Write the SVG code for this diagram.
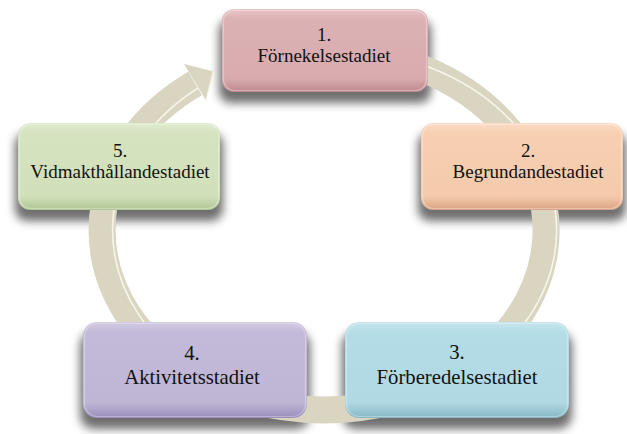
<svg xmlns="http://www.w3.org/2000/svg" width="627" height="434" viewBox="0 0 627 434">
<defs>
<style>
text{font-family:"Liberation Serif","Times New Roman",serif;fill:#111;text-anchor:middle}
.s19{font-size:19px}
.s21{font-size:20.7px}
.sh{fill:#555;opacity:.85;filter:url(#blur)}
.ring{fill:none;stroke:#d9d5c1;stroke-width:27}
.hl{fill:none;stroke:#f8f5e8;stroke-width:1.6}
.edge{fill:none;stroke:#ffffff;stroke-opacity:.3;stroke-width:1.2}
</style>
<filter id="blur" x="-20%" y="-40%" width="140%" height="180%"><feGaussianBlur stdDeviation="5"/></filter>
<mask id="rm"><path d="M324 50 A222 180 0 1 1 195.1 83.5" fill="none" stroke="#fff" stroke-width="25"/></mask>
<clipPath id="topc"><rect x="0" y="0" width="627" height="370"/></clipPath>
<linearGradient id="g1" x1="0" y1="0" x2="0" y2="1">
<stop offset="0" stop-color="#e8c6c8"/><stop offset=".12" stop-color="#dcb1b4"/><stop offset=".84" stop-color="#d8abaf"/><stop offset="1" stop-color="#bd878c"/>
</linearGradient>
<linearGradient id="g2" x1="0" y1="0" x2="0" y2="1">
<stop offset="0" stop-color="#fbdcc6"/><stop offset=".12" stop-color="#f7cfb2"/><stop offset=".84" stop-color="#f4caab"/><stop offset="1" stop-color="#d9a383"/>
</linearGradient>
<linearGradient id="g3" x1="0" y1="0" x2="0" y2="1">
<stop offset="0" stop-color="#c6e5ed"/><stop offset=".12" stop-color="#b4dce6"/><stop offset=".84" stop-color="#b0d9e3"/><stop offset="1" stop-color="#86b7c4"/>
</linearGradient>
<linearGradient id="g4" x1="0" y1="0" x2="0" y2="1">
<stop offset="0" stop-color="#d2cae3"/><stop offset=".12" stop-color="#c3b9d8"/><stop offset=".84" stop-color="#bfb5d5"/><stop offset="1" stop-color="#9a8dba"/>
</linearGradient>
<linearGradient id="g5" x1="0" y1="0" x2="0" y2="1">
<stop offset="0" stop-color="#e0ebcf"/><stop offset=".12" stop-color="#d5e3bf"/><stop offset=".84" stop-color="#d1e0ba"/><stop offset="1" stop-color="#afc493"/>
</linearGradient>
</defs>

<g id="shadows">
<rect class="sh" x="219" y="19" width="212" height="84" rx="12"/>
<rect class="sh" x="418" y="133" width="208" height="88" rx="12"/>
<rect class="sh" x="342" y="332" width="230" height="97" rx="14"/>
<rect class="sh" x="80" y="332" width="230" height="97" rx="14"/>
<rect class="sh" x="15" y="133" width="208" height="88" rx="12"/>
</g>

<g id="connectors">
<path class="ring" d="M324 50 A222 180 0 1 1 195.1 83.5"/>
<g mask="url(#rm)" clip-path="url(#topc)">
<path class="hl" transform="translate(10.5 0)" d="M324 50 A222 180 0 1 1 195.1 83.5"/>
</g>
<polygon points="184,64 213.5,71.5 206,100.5" fill="#d9d5c1"/>
<polyline points="213.5,71.5 206,100.5" fill="none" stroke="#f8f5e8" stroke-width="1.4"/>
</g>

<g id="node1">
<rect x="222" y="9" width="206" height="83" rx="12" fill="url(#g1)"/>
<rect class="edge" x="223.5" y="10.5" width="203" height="80" rx="11"/>
<text class="s19" x="324" y="41">1.</text>
<text class="s19" x="324" y="62">Förnekelsestadiet</text>
</g>

<g id="node2">
<rect x="421" y="123" width="202" height="87" rx="12" fill="url(#g2)"/>
<rect class="edge" x="422.5" y="124.5" width="199" height="84" rx="11"/>
<text class="s19" x="528" y="157">2.</text>
<text class="s19" x="528" y="178">Begrundandestadiet</text>
</g>

<g id="node3">
<rect x="345" y="322" width="224" height="96" rx="14" fill="url(#g3)"/>
<rect class="edge" x="346.5" y="323.5" width="221" height="93" rx="13"/>
<text class="s21" x="457" y="359">3.</text>
<text class="s21" x="457" y="384">Förberedelsestadiet</text>
</g>

<g id="node4">
<rect x="83" y="322" width="224" height="96" rx="14" fill="url(#g4)"/>
<rect class="edge" x="84.5" y="323.5" width="221" height="93" rx="13"/>
<text class="s21" x="192" y="360">4.</text>
<text class="s21" x="192" y="384">Aktivitetsstadiet</text>
</g>

<g id="node5">
<rect x="18" y="123" width="202" height="87" rx="12" fill="url(#g5)"/>
<rect class="edge" x="19.5" y="124.5" width="199" height="84" rx="11"/>
<text class="s19" x="120" y="157">5.</text>
<text class="s19" x="120" y="178">Vidmakthållandestadiet</text>
</g>
</svg>
